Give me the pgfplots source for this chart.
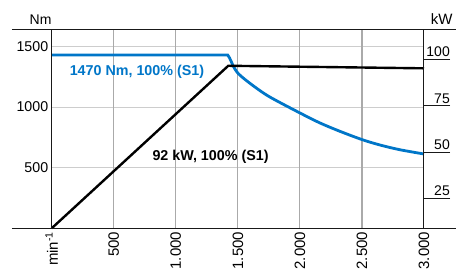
\documentclass[border=0pt]{standalone}
\usepackage{pgfplots}
\pgfplotsset{compat=1.18}
\usepackage{fontspec}
\setmainfont{Liberation Sans}
\definecolor{curveblue}{RGB}{0,118,200}
\definecolor{vgrid}{RGB}{170,170,170}
\definecolor{hgrid}{RGB}{205,205,205}
\definecolor{axisdark}{RGB}{25,25,25}
\begin{document}
\begin{tikzpicture}
\useasboundingbox (-51.7pt,-43.7pt) rectangle (404.3pt,228.3pt);
\clip (-51.7pt,-43.7pt) rectangle (404.3pt,228.3pt);
\begin{axis}[
  at={(0pt,0pt)}, anchor=origin,
  scale only axis, width=372.3pt, height=199pt,
  xmin=0, xmax=3000, ymin=0, ymax=1642,
  clip=false,
  axis line style={draw=none},
  xtick={0,500,1000,1500,2000,2500,3000},
  xticklabels={min\textsuperscript{-1},500,1.000,1.500,2.000,2.500,3.000},
  ytick={500,1000,1500},
  major tick length=0pt,
  /pgf/number format/assume math mode=true,
  /pgf/number format/1000 sep={},
  xticklabel style={rotate=90, anchor=east, font=\fontsize{15}{17}\selectfont},
  yticklabel style={font=\fontsize{14.2}{16}\selectfont},
  grid=none,
  extra x ticks={500,1000,1500,2000,2500},
  extra x tick labels={},
  extra x tick style={grid=major, major grid style={vgrid, line width=1.2pt}},
  ymajorgrids, major grid style={hgrid, line width=1.2pt},
]
\addplot[curveblue, line width=2.8pt] coordinates {
 (0,1430) (1418,1430) (1432,1408) (1445,1380) (1463,1338)};
\addplot[curveblue, line width=2.8pt, smooth] coordinates {
 (1463,1338) (1504,1276) (1598,1196) (1750,1088) (2009,947) (2160,870)
 (2323,800) (2506,730) (2650,686) (2807,648) (3000,613)};
\addplot[black, line width=2.4pt] coordinates {(0,0) (1423,1341) (3000,1320)};
\draw[axisdark, line width=1.2pt] ([xshift=-39.7pt]rel axis cs:0,0) -- ([xshift=32pt]rel axis cs:1,0);
\draw[axisdark, line width=1.2pt] ([xshift=-39.7pt]rel axis cs:0,1) -- ([xshift=32pt]rel axis cs:1,1);
\draw[axisdark, line width=1.2pt] (rel axis cs:0,0) -- (rel axis cs:0,1);
\draw[axisdark, line width=1pt] (rel axis cs:1,0) -- (rel axis cs:1,1);
\node[curveblue, font=\bfseries\fontsize{14.3}{17}\selectfont] at (axis cs:687,1290) {1470 Nm, 100\% (S1)};
\node[black, font=\bfseries\fontsize{14.3}{17}\selectfont] at (axis cs:1280,591) {92 kW, 100\% (S1)};
\node[anchor=base east, inner sep=0pt, font=\fontsize{14}{16}\selectfont] at ([yshift=4.3pt]rel axis cs:0,1) {Nm};
\node[anchor=base east, inner sep=0pt, font=\fontsize{15}{17}\selectfont] at ([xshift=28.7pt, yshift=4.3pt]rel axis cs:1,1) {kW};
\end{axis}
\begin{axis}[
  at={(0pt,0pt)}, anchor=origin,
  scale only axis, width=372.3pt, height=199pt,
  xmin=0, xmax=3000, ymin=8.81, ymax=116.19,
  axis x line=none,
  axis y line*=right,
  y axis line style={draw=none},
  ytick={25,50,75,100},
  tick align=outside,
  major tick length=26pt,
  tick style={axisdark, line width=0.9pt},
  /pgf/number format/assume math mode=true,
  yticklabel style={anchor=south east, inner sep=0pt, yshift=2pt, font=\fontsize{14}{16}\selectfont},
]
\end{axis}
\end{tikzpicture}
\end{document}
